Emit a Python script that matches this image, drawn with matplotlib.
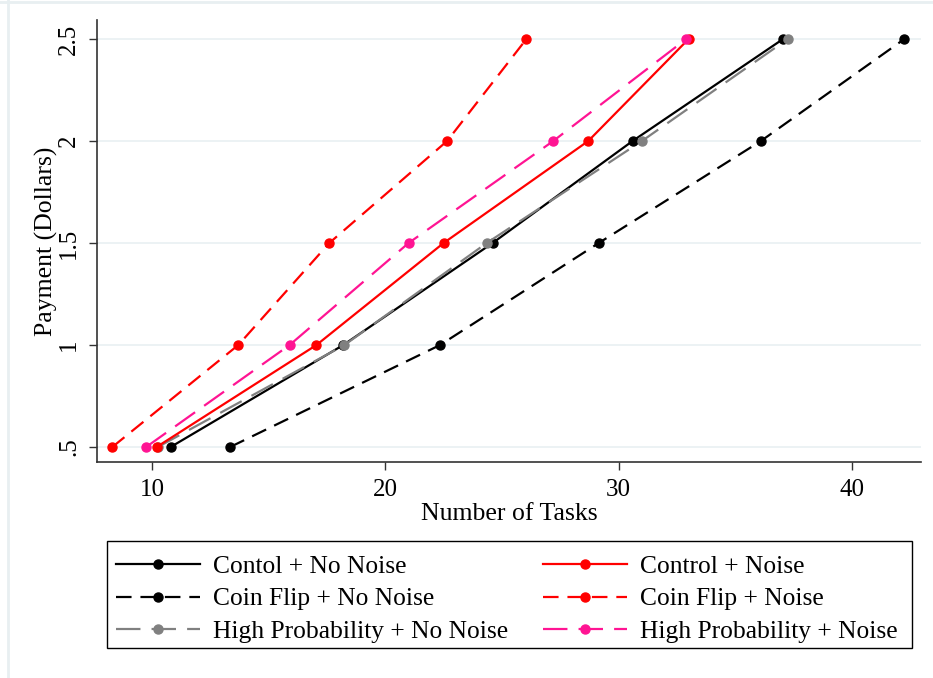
import matplotlib
matplotlib.use("Agg")
import matplotlib.pyplot as plt
from matplotlib.lines import Line2D
from matplotlib.patches import Rectangle

payment = [0.5, 1.0, 1.5, 2.0, 2.5]
control_no_noise = [10.8, 18.2, 24.6, 30.6, 37.05]
control_noise = [10.2, 17.05, 22.5, 28.7, 33.0]
coin_no_noise = [13.35, 22.35, 29.15, 36.1, 42.25]
coin_noise = [8.3, 13.7, 17.6, 22.65, 26.05]
hp_no_noise = [10.25, 18.25, 24.35, 31.0, 37.25]
hp_noise = [9.75, 15.9, 21.0, 27.2, 32.9]

labels = ["Contol + No Noise", "Control + Noise",
          "Coin Flip + No Noise", "Coin Flip + Noise",
          "High Probability + No Noise", "High Probability + Noise"]
xticks = [10, 20, 30, 40]
yticks = [0.5, 1, 1.5, 2, 2.5]
yticklabels = [".5", "1", "1.5", "2", "2.5"]

W, H = 933, 678
fig = plt.figure(figsize=(W / 100, H / 100), dpi=100)
fig.patch.set_facecolor("white")
serif = ["Liberation Serif", "DejaVu Serif"]

# light outer border lines (Stata graph region)
fig.add_artist(Line2D([0, 1], [1 - 2 / H, 1 - 2 / H], transform=fig.transFigure, color="#e8eff1", lw=2))
fig.add_artist(Line2D([8 / W, 8 / W], [0, 1], transform=fig.transFigure, color="#e8eff1", lw=2))

left, right, top, bottom = 97, 921, 20, 462
ax = fig.add_axes([left / W, 1 - bottom / H, (right - left) / W, (bottom - top) / H])
ax.set_facecolor("white")

x0 = 10 - (152 - left) / 23.33
x1 = 10 + (right - 152) / 23.33
ax.set_xlim(x0, x1)
y0 = 0.5 - (bottom - 447) / 204
y1 = 2.5 + (39 - top) / 204
ax.set_ylim(y0, y1)

for yt in yticks:
    ax.axhline(yt, color="#eaf1f3", lw=1.3, zorder=0)

short_dash = (0, (7, 4))
long_dash = (0, (11, 5))
series = [
    (control_no_noise, "black", "-"),
    (control_noise, "red", "-"),
    (coin_no_noise, "black", short_dash),
    (coin_noise, "red", short_dash),
    (hp_no_noise, "#808080", long_dash),
    (hp_noise, "#ff1493", long_dash),
]
handles = {}
for i in [2, 3, 0, 4, 1, 5]:
    xs, c, ls = series[i]
    h, = ax.plot(xs, payment, color=c, lw=1.6, marker="o", markersize=6.5,
                 linestyle=ls, zorder=3)
    handles[i] = h

for s in ["top", "right"]:
    ax.spines[s].set_visible(False)
for s in ["left", "bottom"]:
    ax.spines[s].set_color("#333333")
    ax.spines[s].set_linewidth(1.2)

ax.set_xticks(xticks)
ax.set_xticklabels([str(t) for t in xticks], fontfamily=serif, fontsize=18)
ax.set_yticks(yticks)
ax.set_yticklabels(yticklabels, fontfamily=serif, fontsize=18, rotation=90, va="center")
ax.tick_params(direction="out", length=6, width=1.0, color="#333333", pad=6)

ax.set_xlabel("Number of Tasks", fontfamily=serif, fontsize=18.5, labelpad=2)
ax.set_ylabel("Payment (Dollars)", fontfamily=serif, fontsize=18.5, labelpad=0)

# legend frame
fig.add_artist(Rectangle((107 / W, 1 - 648 / H), (912 - 107) / W, (648 - 541) / H,
                         transform=fig.transFigure, facecolor="white",
                         edgecolor="black", lw=1.0, zorder=1))

leg_kw = dict(ncol=1, loc="upper left", frameon=False,
              prop={"family": serif, "size": 18.4}, handlelength=3.3,
              borderaxespad=0, labelspacing=0.38, borderpad=0, handletextpad=0.5)
col1 = [0, 2, 4]
col2 = [1, 3, 5]
leg1 = fig.legend([handles[i] for i in col1], [labels[i] for i in col1],
                  bbox_to_anchor=(116 / W, 1 - 555 / H), **leg_kw)
leg2 = fig.legend([handles[i] for i in col2], [labels[i] for i in col2],
                  bbox_to_anchor=(543 / W, 1 - 555 / H), **leg_kw)
leg1.set_zorder(2)
leg2.set_zorder(2)

fig.savefig("out.png", dpi=100, facecolor="white")
